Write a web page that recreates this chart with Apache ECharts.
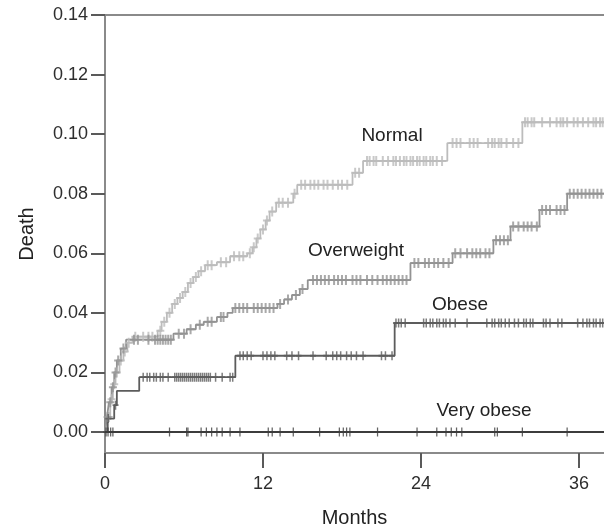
<!DOCTYPE html>
<html>
<head>
<meta charset="utf-8">
<style>
html, body { margin: 0; padding: 0; background: #fff; }
#chart { width: 604px; height: 529px; }
</style>
</head>
<body>
<div id="chart"></div>
<script src="https://cdn.jsdelivr.net/npm/echarts@6/dist/echarts.min.js"></script>
<script>
// months on the x axis, cumulative death on the y axis
var xTicks = [0, 12, 24, 36];
var yTicks = [0, 0.02, 0.04, 0.06, 0.08, 0.10, 0.12, 0.14];
var lastMonth = 37.9;

// step curves: time the step happens, value after it
var normalTimes = [0, 0.2, 0.4, 0.6, 0.8, 1.1, 1.4, 1.7, 2.1, 4.0, 4.3, 4.7, 5.1, 5.5, 5.9, 6.3, 6.7, 7.1, 7.6, 8.5, 9.5, 10.8, 11.2, 11.5, 11.8, 12.2, 12.5, 13.0, 14.3, 14.6, 18.8, 19.6, 26.0, 31.7];
var normalRisk  = [0, 0.005, 0.011, 0.016, 0.020, 0.024, 0.027, 0.030, 0.032, 0.034, 0.037, 0.040, 0.043, 0.045, 0.047, 0.050, 0.052, 0.054, 0.056, 0.057, 0.059, 0.060, 0.062, 0.065, 0.068, 0.071, 0.074, 0.077, 0.080, 0.083, 0.087, 0.091, 0.097, 0.104];

var overweightTimes = [0, 0.15, 0.3, 0.5, 0.7, 0.9, 1.2, 1.6, 5.2, 6.2, 6.9, 7.5, 8.5, 9.3, 9.7, 13.1, 13.6, 14.2, 14.8, 15.4, 23.2, 26.4, 29.5, 30.8, 33.0, 35.1];
var overweightRisk  = [0, 0.005, 0.010, 0.015, 0.020, 0.024, 0.028, 0.031, 0.033, 0.0345, 0.036, 0.037, 0.0386, 0.040, 0.0416, 0.043, 0.0445, 0.046, 0.048, 0.051, 0.0567, 0.060, 0.0644, 0.069, 0.0745, 0.080];

var obeseTimes = [0, 0.2, 0.7, 0.9, 2.6, 9.9, 22.0];
var obeseRisk  = [0, 0.0045, 0.009, 0.0138, 0.0184, 0.0256, 0.0366];

var veryObeseTimes = [0];
var veryObeseRisk  = [0];

// censored times (+ marks)
var normalCensor = [0.3, 0.5, 0.7, 0.9, 1.2, 1.5, 1.8, 2.3, 2.9, 3.3, 3.6, 4.2, 4.5, 4.9, 5.3, 5.7, 6.1, 6.5, 6.9, 7.3, 7.8, 8.1, 8.8, 9.2, 9.8, 10.2, 10.5, 11.0, 11.3, 11.6, 12.0, 12.3, 12.7, 13.2, 13.5, 13.9, 14.4,
  14.9, 15.2, 15.6, 15.9, 16.2, 16.6, 16.9, 17.3, 17.7, 18.0, 18.4, 19.0, 19.3,
  19.9, 20.1, 20.4, 20.6, 21.1, 21.5, 21.9, 22.1, 22.4, 22.7, 22.9, 23.2, 23.4, 23.7, 23.9, 24.2, 24.4, 24.7, 24.9, 25.2, 25.6,
  26.4, 26.7, 27.0, 27.7, 28.0, 28.3, 29.1, 29.4, 29.6, 29.9, 30.1, 30.5, 31.0, 31.4,
  31.9, 32.1, 32.4, 32.6, 33.2, 33.8, 34.3, 34.6, 34.8, 35.1, 35.6, 35.9, 36.3, 36.7, 37.1, 37.3, 37.6, 37.8];
var overweightCensor = [0.2, 0.4, 0.6, 0.8, 1.0, 1.4, 2.2, 2.5, 3.3, 3.8, 4.0, 4.2, 4.4, 4.6, 4.8, 5.0, 5.6, 6.0, 6.5, 7.2, 7.8, 8.1, 8.8, 9.0,
  9.9, 10.2, 10.5, 10.8, 11.3, 11.6, 11.9, 12.2, 12.5, 12.8, 13.3, 13.9, 14.5, 15.0,
  15.8, 16.1, 16.4, 16.7, 17.0, 17.4, 17.7, 18.0, 18.3, 18.8, 19.1, 19.4, 19.9, 20.3, 20.7, 21.1, 21.4, 21.7, 22.0, 22.3, 22.6, 22.9,
  23.5, 23.8, 24.3, 24.6, 25.0, 25.3, 25.7, 26.1, 26.6, 27.0, 27.5, 27.9, 28.2, 28.5, 28.9, 29.2,
  29.7, 30.0, 30.3, 30.6, 31.0, 31.4, 31.8, 32.1, 32.4, 32.8, 33.2, 33.5, 33.8, 34.3, 34.6, 34.9,
  35.3, 35.6, 35.9, 36.2, 36.5, 36.8, 37.1, 37.4, 37.7];
var obeseCensor = [0.25, 0.8, 2.9, 3.2, 3.4, 3.7, 3.9, 4.2, 4.4, 4.8, 5.3, 5.45, 5.6, 5.75, 5.9, 6.05, 6.2, 6.35, 6.5, 6.65, 6.8, 6.95, 7.1, 7.25, 7.4, 7.55, 7.7, 7.85, 8.0, 8.4, 8.9, 9.5, 9.7,
  10.25, 10.5, 10.8, 11.1, 12.0, 12.3, 12.6, 12.9, 13.8, 14.2, 14.7, 15.8, 16.8, 17.3, 17.6, 17.9, 18.35, 18.7, 19.1, 19.6, 21.0, 21.3, 21.8,
  22.1, 22.3, 22.5, 22.8, 24.2, 24.4, 24.7, 24.9, 25.2, 25.4, 25.7, 25.9, 26.2, 26.6, 27.5, 29.0, 29.4, 29.6, 29.9, 30.1, 30.4, 30.7, 31.1, 31.4, 31.8, 32.0, 32.3, 32.5,
  33.3, 33.5, 33.8, 34.4, 34.7, 35.9, 36.3, 36.6, 36.8, 37.1, 37.3, 37.6, 37.8];
var veryObeseCensor = [0.08, 0.23, 0.43, 0.6, 4.9, 6.2, 6.3, 7.3, 7.7, 8.1, 8.5, 8.9, 9.5, 10.25, 12.4, 12.7, 13.3, 14.3, 16.3, 17.8, 18.1, 18.35, 18.6, 20.7, 23.7, 25.2, 25.9, 26.3, 26.7, 27.1, 29.6, 29.8, 31.7, 35.1];

var groups = [
  { name: 'Normal', times: normalTimes, risk: normalRisk, censor: normalCensor, color: '#bcbcbc', mark: [8, 10] },
  { name: 'Overweight', times: overweightTimes, risk: overweightRisk, censor: overweightCensor, color: '#939393', mark: [8, 10] },
  { name: 'Obese', times: obeseTimes, risk: obeseRisk, censor: obeseCensor, color: '#5c5c5c', mark: [6, 9] },
  { name: 'Very obese', times: veryObeseTimes, risk: veryObeseRisk, censor: veryObeseCensor, color: '#3c3c3c', mark: [5, 9] }
];

function valueAt(times, risk, t) {
  var v = risk[0];
  for (var i = 0; i < times.length; i++) {
    if (times[i] <= t) v = risk[i];
  }
  return v;
}

var plusMark = 'path://M3,0h2v4h3v2h-3v4h-2v-4h-3v-2h3z';

var series = [];
groups.forEach(function (g) {
  var pts = g.times.map(function (t, i) { return [t, g.risk[i]]; });
  pts.push([lastMonth, g.risk[g.risk.length - 1]]);
  series.push({
    name: g.name,
    type: 'line',
    step: 'end',
    data: pts,
    symbol: 'none',
    lineStyle: { color: g.color, width: 1.8 },
    z: 3
  });
  series.push({
    name: g.name + ' censored',
    type: 'scatter',
    data: g.censor.map(function (t) { return [t, valueAt(g.times, g.risk, t)]; }),
    symbol: plusMark,
    symbolSize: g.mark,
    itemStyle: { color: g.color },
    z: 4
  });
});

var chart = echarts.init(document.getElementById('chart'));
var labelFont = { fontFamily: 'Liberation Sans', fontSize: 19, fill: '#222' };
chart.setOption({
  animation: false,
  grid: { left: 105, right: 0, top: 15, bottom: 76, outerBoundsMode: 'none', containLabel: false },
  xAxis: [{
    type: 'value',
    min: 0,
    max: lastMonth,
    position: 'bottom',
    name: 'Months',
    nameLocation: 'middle',
    nameGap: 55,
    nameTextStyle: { fontFamily: 'Liberation Sans', fontSize: 20, color: '#222' },
    axisLine: { onZero: false, lineStyle: { color: '#8a8a8a', width: 2 } },
    axisTick: { customValues: xTicks, length: 15, lineStyle: { color: '#5a5a5a', width: 2 } },
    axisLabel: { customValues: xTicks, margin: 22, fontFamily: 'Liberation Sans', fontSize: 18, color: '#2e2e2e' },
    splitLine: { show: false }
  }, {
    type: 'value',
    min: 0,
    max: lastMonth,
    position: 'top',
    axisLine: { onZero: false, lineStyle: { color: '#8a8a8a', width: 2 } },
    axisTick: { show: false },
    axisLabel: { show: false },
    splitLine: { show: false }
  }],
  yAxis: {
    type: 'value',
    min: -0.00705,
    max: 0.14,
    name: 'Death',
    nameLocation: 'middle',
    nameGap: 68,
    nameRotate: 90,
    nameTextStyle: { fontFamily: 'Liberation Sans', fontSize: 20, color: '#222' },
    axisLine: { lineStyle: { color: '#8a8a8a', width: 2 } },
    axisTick: { customValues: yTicks, length: 14, lineStyle: { color: '#5a5a5a', width: 2 } },
    axisLabel: {
      customValues: yTicks,
      margin: 17,
      fontFamily: 'Liberation Sans',
      fontSize: 18,
      color: '#2e2e2e',
      formatter: function (v) { return v.toFixed(2); }
    },
    splitLine: { show: false }
  },
  graphic: [
    { type: 'text', x: 392, y: 136, style: Object.assign({ text: 'Normal', align: 'center', verticalAlign: 'middle' }, labelFont) },
    { type: 'text', x: 356, y: 251, style: Object.assign({ text: 'Overweight', align: 'center', verticalAlign: 'middle' }, labelFont) },
    { type: 'text', x: 460, y: 305, style: Object.assign({ text: 'Obese', align: 'center', verticalAlign: 'middle' }, labelFont) },
    { type: 'text', x: 484, y: 411, style: Object.assign({ text: 'Very obese', align: 'center', verticalAlign: 'middle' }, labelFont) }
  ],
  series: series
});
</script>
</body>
</html>
